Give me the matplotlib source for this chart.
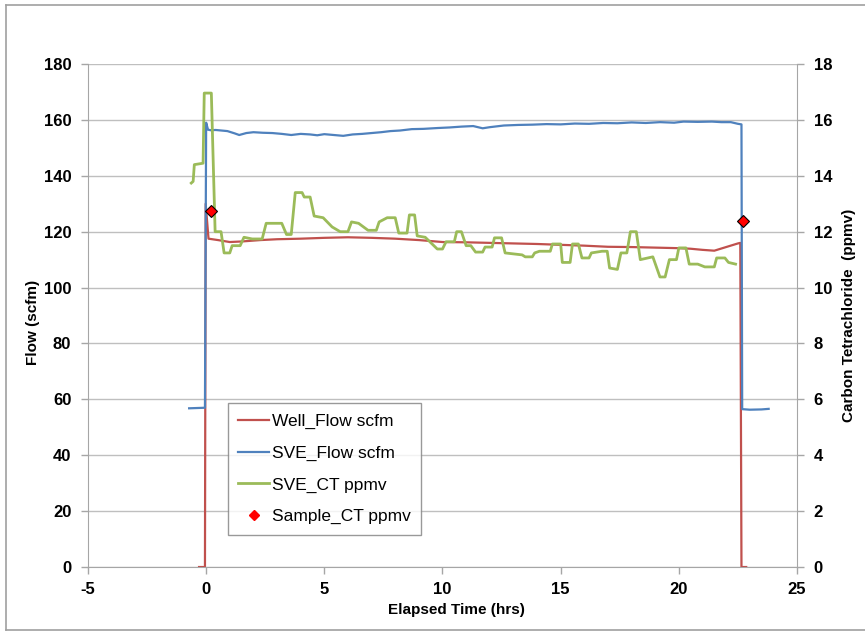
import matplotlib
matplotlib.use('Agg')
import matplotlib.pyplot as plt
from matplotlib.lines import Line2D

plt.rcParams['font.family'] = ['Liberation Sans', 'DejaVu Sans']
plt.rcParams['axes.unicode_minus'] = False

# Well_Flow scfm (left axis)
well_t = [-0.3, -0.05, -0.02, 0.1, 0.5, 1.0, 1.5, 2.3, 3.0, 4.0, 5.0, 6.0, 7.0, 8.0, 9.0,
          10.0, 11.0, 12.0, 13.0, 14.0, 15.0, 16.0, 17.0, 18.0, 19.0, 20.0, 20.5, 21.0,
          21.5, 22.0, 22.5, 22.6, 22.65, 22.85]
well_flow = [0, 0, 130, 117.5, 117, 116.3, 116.5, 117, 117.3, 117.5, 117.8, 118, 117.8,
             117.5, 117, 116.3, 116.2, 116, 115.8, 115.6, 115.3, 115, 114.6, 114.5, 114.3,
             114.1, 113.9, 113.5, 113.2, 114.5, 115.8, 116, 0, 0]

# SVE_Flow scfm (left axis)
sve_t = [-0.72, -0.05, 0.0, 0.08, 0.2, 0.4, 0.9, 1.2, 1.4, 1.7, 2.0, 2.4, 2.8, 3.2, 3.6,
         4.0, 4.4, 4.7, 5.0, 5.4, 5.8, 6.2, 6.6, 7.0, 7.4, 7.8, 8.2, 8.7, 9.2, 9.8, 10.3,
         10.8, 11.3, 11.7, 12.0, 12.6, 13.2, 13.8, 14.4, 15.0, 15.6, 16.2, 16.8, 17.4,
         18.0, 18.6, 19.2, 19.8, 20.2, 20.8, 21.4, 21.8, 22.2, 22.5, 22.65, 22.68, 23.0,
         23.5, 23.8]
sve_flow = [56.8, 57, 159, 156.5, 156.3, 156.4, 156.0, 155.2, 154.6, 155.3, 155.6, 155.4,
            155.3, 155.0, 154.6, 155.0, 154.8, 154.5, 154.9, 154.6, 154.3, 154.8, 155.0,
            155.3, 155.6, 156.0, 156.2, 156.7, 156.8, 157.1, 157.3, 157.6, 157.8, 157.0,
            157.4, 158.0, 158.2, 158.3, 158.5, 158.4, 158.7, 158.6, 158.9, 158.8, 159.1,
            158.9, 159.2, 159.0, 159.4, 159.3, 159.4, 159.2, 159.2, 158.6, 158.4, 56.5,
            56.3, 56.4, 56.6]

# SVE_CT ppmv (right axis)
ct_t = [-0.63, -0.55, -0.5, -0.13, -0.08, 0.22, 0.38, 0.63, 0.76, 1.0, 1.1, 1.44, 1.6,
        1.95, 2.37, 2.54, 3.2, 3.4, 3.6, 3.77, 4.06, 4.15, 4.4, 4.57, 4.95, 5.33, 5.67,
        6.0, 6.15, 6.45, 6.85, 7.2, 7.32, 7.66, 8.0, 8.15, 8.5, 8.6, 8.82, 8.93, 9.27,
        9.78, 10.0, 10.15, 10.5, 10.6, 10.8, 11.0, 11.2, 11.4, 11.7, 11.8, 12.1, 12.2,
        12.5, 12.65, 13.37, 13.5, 13.8, 13.9, 14.1, 14.56, 14.65, 15.0, 15.07, 15.4, 15.5,
        15.75, 15.9, 16.2, 16.3, 16.75, 16.97, 17.07, 17.4, 17.55, 17.8, 17.95, 18.2,
        18.37, 18.9, 19.2, 19.42, 19.6, 19.9, 20.0, 20.3, 20.44, 20.8, 21.1, 21.5, 21.6,
        21.95, 22.1, 22.4]
ct_ppmv = [13.74, 13.8, 14.4, 14.45, 16.96, 16.96, 12.0, 12.0, 11.24, 11.24, 11.5, 11.5,
           11.8, 11.74, 11.74, 12.3, 12.3, 11.9, 11.9, 13.4, 13.4, 13.24, 13.24, 12.56,
           12.5, 12.17, 12.0, 12.0, 12.35, 12.3, 12.05, 12.05, 12.35, 12.5, 12.5, 11.95,
           11.95, 12.6, 12.6, 11.85, 11.8, 11.38, 11.38, 11.64, 11.64, 12.0, 12.0, 11.5,
           11.5, 11.27, 11.27, 11.45, 11.45, 11.78, 11.78, 11.24, 11.17, 11.1, 11.1, 11.24,
           11.3, 11.3, 11.56, 11.56, 10.9, 10.9, 11.56, 11.56, 11.06, 11.06, 11.24, 11.3,
           11.3, 10.7, 10.65, 11.24, 11.24, 12.0, 12.0, 11.0, 11.1, 10.38, 10.38, 11.0,
           11.0, 11.42, 11.42, 10.84, 10.84, 10.74, 10.74, 11.06, 11.06, 10.9, 10.84]

# Sample_CT ppmv (right axis)
sample_t = [0.22, 22.7]
sample_ct = [12.74, 12.38]

RED = '#C0504D'
BLUE = '#4F81BD'
GREEN = '#9BBB59'
GRID = '#BFBFBF'
AXC = '#A6A6A6'

fig = plt.figure(figsize=(8.65, 6.32), dpi=100)
ax = fig.add_axes([0.1017, 0.1028, 0.8197, 0.7959])
ax2 = ax.twinx()

ax.plot(well_t, well_flow, color=RED, lw=1.6, label='Well_Flow scfm')
ax.plot(sve_t, sve_flow, color=BLUE, lw=1.6, label='SVE_Flow scfm')
ax2.plot(ct_t, ct_ppmv, color=GREEN, lw=2.0, label='SVE_CT ppmv')
ax2.plot(sample_t, sample_ct, ls='none', marker='D', ms=6, mfc='#FF0000', mec='black',
         mew=0.8, label='Sample_CT ppmv')

ax.set_xlim(-5, 25)
ax.set_ylim(0, 180)
ax2.set_ylim(0, 18)
ax.set_xticks(range(-5, 26, 5))
ax.set_yticks(range(0, 181, 20))
ax2.set_yticks(range(0, 19, 2))

ax.yaxis.grid(True, color=GRID, lw=1.0)
ax.set_axisbelow(True)

for a in (ax, ax2):
    for s in a.spines.values():
        s.set_visible(False)
    a.tick_params(axis='both', direction='out', length=5, width=1, color=AXC,
                  labelsize=12, pad=7)
    for lab in a.get_xticklabels() + a.get_yticklabels():
        lab.set_fontweight('bold')
ax.tick_params(axis='x', pad=6)
ax.spines['left'].set_visible(True)
ax.spines['left'].set_color(AXC)
ax.spines['bottom'].set_visible(True)
ax.spines['bottom'].set_color(AXC)
ax2.spines['right'].set_visible(True)
ax2.spines['right'].set_color(AXC)

ax.set_xlabel('Elapsed Time (hrs)', fontsize=11, fontweight='bold')
ax.set_ylabel('Flow (scfm)', fontsize=11, fontweight='bold')
ax2.set_ylabel('Carbon Tetrachloride  (ppmv)', fontsize=11, fontweight='bold')
ax.xaxis.set_label_coords(0.52, -0.071)
ax.yaxis.set_label_coords(-0.068, 0.487)
ax2.yaxis.set_label_coords(1.064, 0.50)

handles = [Line2D([], [], color=RED, lw=1.6),
           Line2D([], [], color=BLUE, lw=1.6),
           Line2D([], [], color=GREEN, lw=2.0),
           Line2D([], [], ls='none', marker='D', ms=5, mfc='#FF0000', mec='#FF0000')]
labels = ['Well_Flow scfm', 'SVE_Flow scfm', 'SVE_CT ppmv', 'Sample_CT ppmv']
leg = ax2.legend(handles, labels, loc='lower left', bbox_to_anchor=(0.197, 0.064),
                 fontsize=12.5, frameon=True, fancybox=False, borderpad=0.6,
                 labelspacing=0.95, handlelength=1.8, handletextpad=0.15,
                 borderaxespad=0)
leg.get_frame().set_edgecolor('#808080')
leg.get_frame().set_linewidth(1.0)

# outer chart border
fig.add_artist(Line2D([0.007, 0.007], [0.003, 0.992], color='#A0A0A0', lw=1.2,
                      transform=fig.transFigure))
fig.add_artist(Line2D([0.007, 1.0], [0.992, 0.992], color='#A0A0A0', lw=1.2,
                      transform=fig.transFigure))
fig.add_artist(Line2D([0.007, 1.0], [0.003, 0.003], color='#A0A0A0', lw=1.2,
                      transform=fig.transFigure))

fig.savefig('out.png', dpi=100)
